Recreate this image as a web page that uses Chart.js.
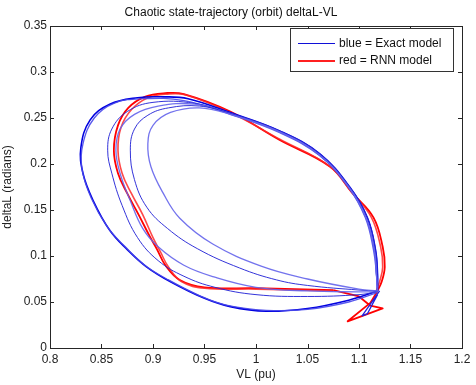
<!DOCTYPE html>
<html>
<head>
<meta charset="utf-8">
<script src="https://cdn.jsdelivr.net/npm/chart.js@4.4.1/dist/chart.umd.min.js"></script>
<style>
  html, body { margin: 0; padding: 0; background: #fff; }
  #wrap { width: 476px; height: 385px; }
</style>
</head>
<body>
<div id="wrap"><canvas id="orbit"></canvas></div>
<script>
// axis ticks
const xTicks = [0.8, 0.85, 0.9, 0.95, 1, 1.05, 1.1, 1.15, 1.2];
const xTickLabels = ['0.8', '0.85', '0.9', '0.95', '1', '1.05', '1.1', '1.15', '1.2'];
const yTicks = [0, 0.05, 0.1, 0.15, 0.2, 0.25, 0.3, 0.35];
const yTickLabels = ['0', '0.05', '0.1', '0.15', '0.2', '0.25', '0.3', '0.35'];

const legendLabels = ['blue = Exact model', 'red = RNN model'];

// exact model, orbit passes  [VL, deltaL]
const outerA = [[1.118,0.062],[1.09,0.052],[1.05,0.043],[1.01,0.040],[0.975,0.045],[0.95,0.054],[0.917,0.072],[0.894,0.088],[0.875,0.107],[0.858,0.128],[0.842,0.16],[0.832,0.19],[0.830,0.218],[0.839,0.248],[0.858,0.265],[0.885,0.272],[0.91,0.273],[0.934,0.271],[0.975,0.256],[1.023,0.236],[1.062,0.211],[1.091,0.175],[1.108,0.142],[1.116,0.107],[1.118,0.08],[1.118,0.062]];
const outerB = [[1.117,0.060],[1.09,0.050],[1.05,0.042],[1.01,0.041],[0.97,0.047],[0.945,0.057],[0.915,0.074],[0.892,0.090],[0.873,0.110],[0.856,0.131],[0.840,0.163],[0.831,0.195],[0.832,0.222],[0.843,0.250],[0.862,0.266],[0.89,0.271],[0.93,0.269],[0.975,0.254],[1.023,0.234],[1.062,0.209],[1.089,0.176],[1.106,0.142],[1.114,0.107],[1.117,0.08],[1.118,0.063]];
const loop2 = [[1.118,0.061],[1.1,0.058],[1.05,0.056],[1.0,0.058],[0.96,0.066],[0.93,0.078],[0.905,0.095],[0.885,0.12],[0.870,0.155],[0.860,0.19],[0.856,0.215],[0.860,0.238],[0.875,0.257],[0.9,0.267],[0.94,0.266],[0.975,0.255],[1.023,0.235],[1.061,0.210],[1.09,0.174],[1.107,0.141],[1.115,0.106],[1.117,0.078],[1.118,0.061]];
const loop3 = [[1.118,0.061],[1.1,0.061],[1.05,0.062],[1.0,0.066],[0.96,0.077],[0.93,0.090],[0.905,0.110],[0.890,0.130],[0.878,0.16],[0.868,0.19],[0.864,0.215],[0.868,0.238],[0.882,0.254],[0.905,0.263],[0.94,0.265],[0.975,0.255],[1.023,0.235],[1.062,0.210],[1.09,0.175],[1.107,0.141],[1.115,0.106],[1.117,0.078],[1.118,0.061]];
const loop4 = [[1.118,0.062],[1.1,0.063],[1.05,0.068],[1.02,0.074],[0.984,0.087],[0.943,0.108],[0.914,0.130],[0.894,0.153],[0.882,0.183],[0.878,0.215],[0.882,0.238],[0.895,0.253],[0.915,0.261],[0.945,0.263],[0.975,0.255],[1.023,0.236],[1.062,0.211],[1.091,0.175],[1.108,0.142],[1.116,0.107],[1.118,0.08],[1.118,0.062]];
const loop5 = [[1.118,0.062],[1.1,0.064],[1.05,0.075],[1.005,0.089],[0.958,0.113],[0.926,0.141],[0.910,0.168],[0.898,0.197],[0.895,0.222],[0.900,0.242],[0.917,0.256],[0.945,0.261],[0.975,0.254],[1.023,0.235],[1.061,0.210],[1.09,0.175],[1.107,0.141],[1.115,0.106],[1.117,0.079],[1.118,0.062]];
const exactTail = [[1.120,0.062],[1.103,0.035],[1.108,0.037],[1.118,0.058]];

// RNN model
const rnnA = [[1.075,0.063],[1.0,0.065],[0.95,0.066],[0.926,0.074],[0.912,0.090],[0.904,0.107],[0.897,0.121],[0.886,0.145],[0.875,0.168],[0.866,0.19],[0.862,0.215],[0.866,0.242],[0.876,0.261],[0.892,0.273],[0.912,0.277],[0.93,0.276],[0.975,0.257],[1.023,0.226],[1.072,0.197],[1.094,0.168],[1.114,0.142],[1.123,0.11],[1.125,0.088],[1.122,0.072],[1.117,0.060]];
const rnnB = [[1.075,0.062],[1.0,0.064],[0.95,0.065],[0.928,0.072],[0.915,0.088],[0.907,0.105],[0.900,0.120],[0.890,0.145],[0.879,0.168],[0.870,0.19],[0.866,0.215],[0.869,0.240],[0.879,0.259],[0.895,0.272],[0.914,0.276],[0.932,0.275],[0.975,0.256],[1.023,0.227],[1.071,0.198],[1.093,0.169],[1.112,0.142],[1.121,0.11],[1.123,0.088],[1.12,0.072],[1.116,0.060]];
const rnnTail = [[1.117,0.060],[1.111,0.049],[1.089,0.029],[1.123,0.043],[1.111,0.046],[1.100,0.056],[1.075,0.063]];

const pts = (arr) => arr.map(p => ({x: p[0], y: p[1]}));

function line(arr, color, width, tension) {
  return {
    data: pts(arr),
    showLine: true,
    borderColor: color,
    borderWidth: width,
    pointRadius: 0,
    tension: tension,
    fill: false,
    borderJoinStyle: 'round'
  };
}

// frame, inward ticks on all four sides, legend box
const matlabAxes = {
  id: 'matlabAxes',
  afterDraw(chart) {
    const ctx = chart.ctx;
    const a = chart.chartArea;
    const xs = chart.scales.x, ys = chart.scales.y;
    ctx.save();
    ctx.strokeStyle = '#262626';
    ctx.lineWidth = 1;
    ctx.strokeRect(Math.round(a.left) + 0.5, Math.round(a.top) + 0.5, Math.round(a.right - a.left), Math.round(a.bottom - a.top));
    ctx.beginPath();
    xTicks.forEach(v => {
      const px = Math.round(xs.getPixelForValue(v)) + 0.5;
      ctx.moveTo(px, a.bottom); ctx.lineTo(px, a.bottom - 4);
      ctx.moveTo(px, a.top); ctx.lineTo(px, a.top + 4);
    });
    yTicks.forEach(v => {
      const py = Math.round(ys.getPixelForValue(v)) + 0.5;
      ctx.moveTo(a.left, py); ctx.lineTo(a.left + 4, py);
      ctx.moveTo(a.right, py); ctx.lineTo(a.right - 4, py);
    });
    ctx.stroke();

    // legend
    const bx = 290.5, by = 28.5, bw = 163, bh = 43;
    ctx.fillStyle = '#fff';
    ctx.fillRect(bx, by, bw, bh);
    ctx.strokeStyle = '#333';
    ctx.strokeRect(bx, by, bw, bh);
    ctx.lineWidth = 1.2;
    ctx.strokeStyle = '#1010d8';
    ctx.beginPath(); ctx.moveTo(298, 43.5); ctx.lineTo(335, 43.5); ctx.stroke();
    ctx.lineWidth = 2;
    ctx.strokeStyle = '#ff2020';
    ctx.beginPath(); ctx.moveTo(298, 61); ctx.lineTo(335, 61); ctx.stroke();
    ctx.fillStyle = '#111';
    ctx.font = '12px "Liberation Sans", Arial, sans-serif';
    ctx.textBaseline = 'middle';
    ctx.fillText(legendLabels[0], 339, 43.5);
    ctx.fillText(legendLabels[1], 339, 61);
    ctx.restore();
  }
};

const font = { family: '"Liberation Sans", Arial, sans-serif', size: 12, weight: 'normal' };

new Chart(document.getElementById('orbit'), {
  type: 'scatter',
  data: {
    datasets: [
      line(loop5, 'rgba(100,100,235,0.9)', 1.3, 0.4),
      line(loop4, 'rgba(40,40,215,0.95)', 1, 0.4),
      line(loop3, 'rgba(100,100,235,0.9)', 1.3, 0.4),
      line(loop2, 'rgba(40,40,215,0.95)', 1, 0.4),
      line(outerB, 'rgba(70,70,235,0.9)', 1.3, 0.4),
      line(outerA, '#0000e0', 1.6, 0.4),
      line(exactTail, '#2020e0', 1.3, 0),
      line(rnnB, 'rgba(255,40,40,0.85)', 1.6, 0.4),
      line(rnnA, '#ff0000', 1.8, 0.4),
      line(rnnTail, '#ff0000', 1.8, 0)
    ]
  },
  options: {
    responsive: true,
    maintainAspectRatio: false,
    animation: false,
    events: [],
    layout: { padding: { left: 0, right: 14, top: 0, bottom: 0 } },
    plugins: {
      legend: { display: false },
      tooltip: { enabled: false },
      title: {
        display: true,
        text: 'Chaotic state-trajectory (orbit) deltaL-VL',
        color: '#111',
        font: font,
        padding: { top: 5, bottom: 6.6 }
      }
    },
    scales: {
      x: {
        type: 'linear',
        min: 0.8, max: 1.2,
        grid: { display: false, drawTicks: false, tickLength: 0 },
        border: { display: false },
        afterBuildTicks: (s) => { s.ticks = xTicks.map(v => ({ value: v })); },
        afterFit: (s) => { s.height = 37; },
        ticks: {
          color: '#222', font: font, padding: 4, maxRotation: 0,
          callback: (v, i) => xTickLabels[i]
        },
        title: { display: true, text: 'VL (pu)', color: '#222', font: font, padding: { top: 0, bottom: 3 } }
      },
      y: {
        type: 'linear',
        min: 0, max: 0.35,
        grid: { display: false, drawTicks: false, tickLength: 0 },
        border: { display: false },
        afterBuildTicks: (s) => { s.ticks = yTicks.map(v => ({ value: v })); },
        afterFit: (s) => { s.width = 50; },
        ticks: {
          color: '#222', font: font, padding: 3,
          callback: (v, i) => yTickLabels[i]
        },
        title: { display: true, text: 'deltaL (radians)', color: '#222', font: font, padding: { top: 0, bottom: 0 } }
      }
    }
  },
  plugins: [matlabAxes]
});
</script>
</body>
</html>
